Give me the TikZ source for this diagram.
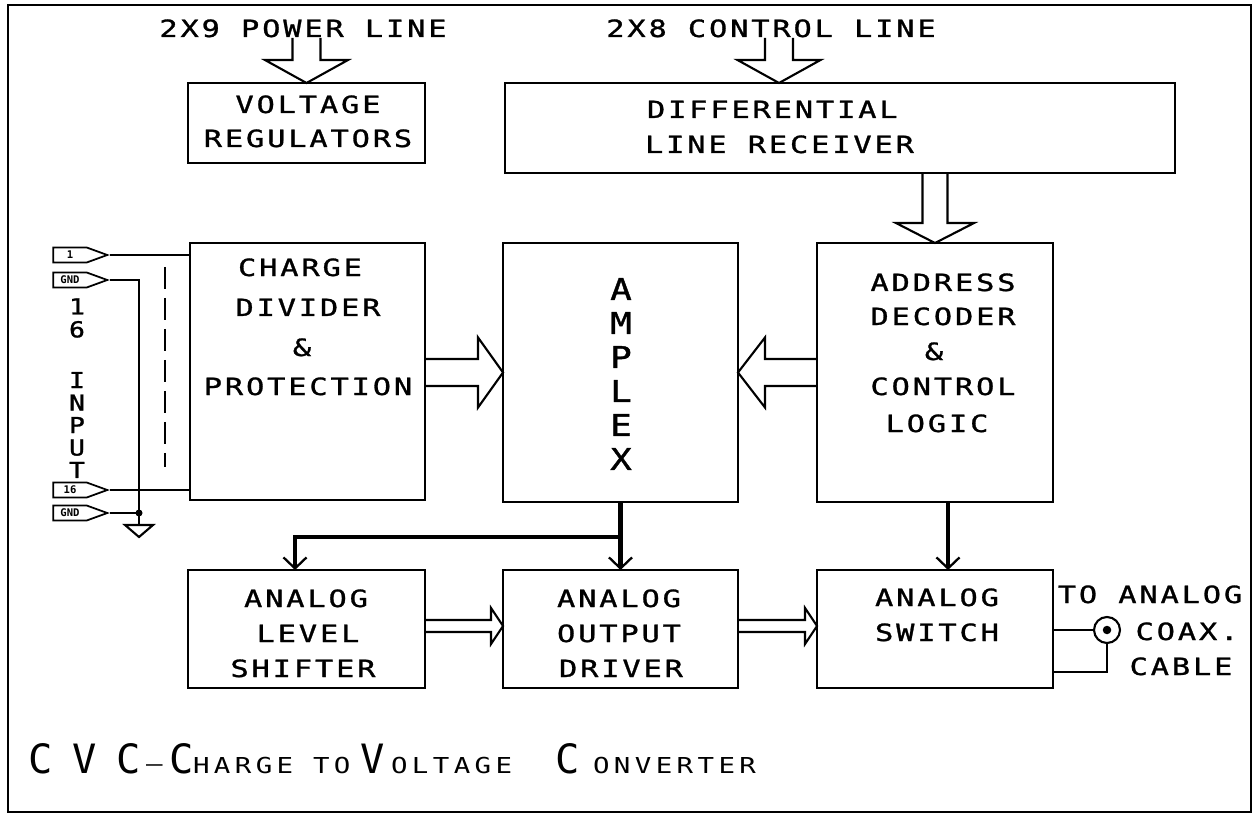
\documentclass[tikz,border=0pt]{standalone}
\usepackage{fontspec}
\usetikzlibrary{calc,arrows.meta,shapes.symbols}
\newfontfamily\plotfont[FakeStretch=1.28,FakeBold=1.2,LetterSpace=12]{DejaVu Sans Mono}
\newfontfamily\titlefont[FakeStretch=1.25,LetterSpace=20]{DejaVu Sans Mono}
\newfontfamily\plotplain[FakeStretch=1.2,FakeBold=1.2]{DejaVu Sans Mono}
\newfontfamily\bigplain{DejaVu Sans Mono}
% hollow (outline) arrow: start, tip, shaft half width, head half width, head length
\newcommand\harrow[5]{%
  \coordinate (hb) at ($(#2)!#5!(#1)$);
  \draw[hollow] ($(#1)!#3!90:(#2)$) -- ($(hb)!#3!90:(#2)$) -- ($(hb)!#4!90:(#2)$) -- (#2)
     -- ($(hb)!#4!-90:(#2)$) -- ($(hb)!#3!-90:(#2)$) -- ($(#1)!#3!-90:(#2)$);
}
\begin{document}
\begin{tikzpicture}[x=0.02cm,y=-0.02cm,
  box/.style={draw,line width=1.3pt,inner sep=0,outer sep=0},
  txt/.style={inner sep=0,outer sep=0,anchor=base,font=\plotfont\fontsize{13.5}{16}\selectfont},
  txtw/.style={txt,anchor=base west},
  hollow/.style={line width=1.2pt,line join=miter},
  bus/.style={line width=2.4pt,-{Straight Barb[length=0.22cm,width=0.46cm,line width=1.3pt]}},
  wire/.style={line width=1.2pt},
  pinshape/.style={draw,line width=1pt,shape=signal,signal to=east,signal pointer angle=40,
    minimum width=1.08cm,minimum height=0.3cm,inner sep=0.5pt,
    font=\bigplain\bfseries\fontsize{6}{6}\selectfont},
  big/.style={inner sep=0,outer sep=0,anchor=base west,font=\bigplain\fontsize{23}{23}\selectfont},
  small/.style={inner sep=0,outer sep=0,anchor=base west,font=\titlefont\fontsize{12.5}{13}\selectfont},
]
\useasboundingbox (0,0) rectangle (1256,817);
\draw[line width=1.3pt] (8,5) rectangle (1251,812);

% boxes
\node[box,minimum width=4.74cm,minimum height=1.6cm] (vr) at (306.5,123) {};
\node[box,minimum width=13.4cm,minimum height=1.8cm] (dlr) at (840,128) {};
\node[box,minimum width=4.7cm,minimum height=5.14cm] (cdp) at (307.5,371.5) {};
\node[box,minimum width=4.7cm,minimum height=5.18cm] (amp) at (620.5,372.5) {};
\node[box,minimum width=4.72cm,minimum height=5.18cm] (adc) at (935,372.5) {};
\node[box,minimum width=4.74cm,minimum height=2.36cm] (als) at (306.5,629) {};
\node[box,minimum width=4.7cm,minimum height=2.36cm] (aod) at (620.5,629) {};
\node[box,minimum width=4.72cm,minimum height=2.36cm] (asw) at (935,629) {};

% texts
\node[txt] (tpow) at (303,37) {2X9 POWER LINE};
\node[txt] (tctl) at (771,37) {2X8 CONTROL LINE};
\node[txt] (tvr1) at (308,113) {VOLTAGE};
\node[txt] (tvr2) at (308,147) {REGULATORS};
\node[txtw] (tdl1) at (647,118) {DIFFERENTIAL};
\node[txtw] (tdl2) at (645,153) {LINE RECEIVER};
\node[txt] (tcd1) at (300,276) {CHARGE};
\node[txt] (tcd2) at (308,316) {DIVIDER};
\node[txt] (tcd3) at (302,356) {\&};
\node[txt] (tcd4) at (308,395) {PROTECTION};
\node[txt] (tad1) at (943,291) {ADDRESS};
\node[txt] (tad2) at (943,325) {DECODER};
\node[txt] (tad3) at (934,360) {\&};
\node[txt] (tad4) at (943,395) {CONTROL};
\node[txt] (tad5) at (937,432) {LOGIC};
\node[txt] (tls1) at (306,607) {ANALOG};
\node[txt] (tls2) at (308,642) {LEVEL};
\node[txt] (tls3) at (303,677) {SHIFTER};
\node[txt] (tod1) at (619,607) {ANALOG};
\node[txt] (tod2) at (619,642) {OUTPUT};
\node[txt] (tod3) at (621,677) {DRIVER};
\node[txt] (tsw1) at (937,606) {ANALOG};
\node[txt] (tsw2) at (937,641) {SWITCH};
\node[txt] (tco1) at (1150,603) {TO ANALOG};
\node[txt] (tco2) at (1187,640) {COAX.};
\node[txt] (tco3) at (1181,675) {CABLE};
\node[inner sep=0,align=center,font=\plotplain\fontsize{17}{19.35}\selectfont] (tamp) at (621,374) {A\\M\\P\\L\\E\\X};
\node[inner sep=0,align=center,font=\plotplain\fontsize{12.5}{13.1}\selectfont] (t16) at (77,318) {1\\6};
\node[inner sep=0,align=center,font=\plotplain\fontsize{12.5}{12.8}\selectfont] (tin) at (77,425) {I\\N\\P\\U\\T};

% title
\node[big] (ti1) at (29,773) {C};
\node[big] (ti2) at (72,773) {V};
\node[big] (ti3) at (116,773) {C};
\node[small] (ti4) at (146,771) {–};
\node[big] (ti5) at (169,773) {C};
\node[small] (ti6) at (193,773) {HARGE};
\node[small] (ti7) at (313,773) {TO};
\node[big] (ti8) at (360,773) {V};
\node[small] (ti9) at (391,773) {OLTAGE};
\node[big] (ti10) at (555,773) {C};
\node[small] (ti11) at (593,773) {ONVERTER};

% hollow arrows
\coordinate (pwtop) at (306.5,38);
\harrow{pwtop}{vr.north}{0.28cm}{0.83cm}{0.46cm}
\coordinate (cttop) at (779,38);
\coordinate (cttip) at (cttop |- dlr.north);
\harrow{cttop}{cttip}{0.28cm}{0.83cm}{0.46cm}
\coordinate (dstart) at (adc.north |- dlr.south);
\harrow{dstart}{adc.north}{0.25cm}{0.78cm}{0.4cm}
\coordinate (m1s) at (cdp.east |- amp.west);
\harrow{m1s}{amp.west}{0.27cm}{0.7cm}{0.5cm}
\harrow{adc.west}{amp.east}{0.27cm}{0.7cm}{0.54cm}
\coordinate (b1s) at ([yshift=0.06cm]als.east);
\coordinate (b1t) at ([yshift=0.06cm]aod.west);
\harrow{b1s}{b1t}{0.12cm}{0.36cm}{0.24cm}
\coordinate (b2s) at ([yshift=0.06cm]aod.east);
\coordinate (b2t) at ([yshift=0.06cm]asw.west);
\harrow{b2s}{b2t}{0.12cm}{0.36cm}{0.24cm}

% buses
\coordinate (bjy) at (0,537);
\coordinate (bj) at (amp.south |- bjy);
\draw[bus] (amp.south) -- (aod.north);
\draw[bus] (bj) -| ([xshift=-0.23cm]als.north);
\draw[bus] ([xshift=0.26cm]adc.south) -- ([xshift=0.26cm]asw.north);

% coax output
\node[circle,draw,line width=1.2pt,minimum size=0.52cm,inner sep=0] (coax) at (1107,630) {};
\fill (coax.center) circle[radius=0.085cm];
\coordinate (cb) at (1107,672);
\draw[wire] (coax.west -| asw.east) -- (coax.west);
\draw[wire] (coax.south) -- (cb) -- (cb -| asw.east);

% inputs
\node[pinshape] (p1) at (70,255) {1};
\node[pinshape] (g1) at (70,280) {GND};
\node[pinshape] (p16) at (70,490) {16};
\node[pinshape] (g2) at (70,513) {GND};
\draw[wire] (p1.east) -- (p1.east -| cdp.west);
\draw[wire] (p16.east) -- (p16.east -| cdp.west);
\coordinate (gnd) at (139,525);
\draw[wire] (g1.east) -| (gnd);
\draw[wire] (g2.east) -- (g2.east -| gnd);
\fill (g2.east -| gnd) circle[radius=0.07cm];
\draw[wire,line join=miter] ($(gnd)+(-14,0)$) -- ($(gnd)+(14,0)$) -- ($(gnd)+(0,12)$) -- cycle;
\draw[line width=1.2pt,dash pattern=on 0.44cm off 0.18cm] (165,267) -- (165,467);
\end{tikzpicture}
\end{document}
